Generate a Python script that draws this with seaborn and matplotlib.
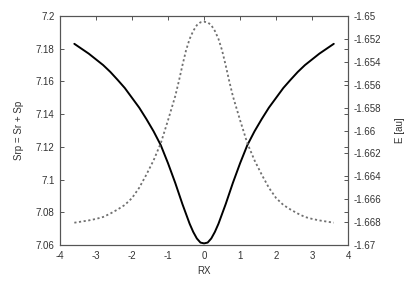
import numpy as np
import pandas as pd
import matplotlib
matplotlib.use("Agg")
import matplotlib.pyplot as plt
import seaborn as sns

# Values (left half, RX <= 0)
rx_half = [-3.6, -3.2, -3.0, -2.8, -2.6, -2.4, -2.2, -2.0, -1.8, -1.6, -1.4,
           -1.2, -1.0, -0.8, -0.7, -0.6, -0.5, -0.4, -0.3, -0.2, -0.1, 0.0]
srp_half = [7.183, 7.177, 7.1735, 7.170, 7.1658, 7.161, 7.156, 7.150, 7.144,
            7.137, 7.1295, 7.121, 7.110, 7.098, 7.0915, 7.085, 7.079, 7.073,
            7.068, 7.064, 7.0615, 7.061]
energy_half = [-1.66805, -1.66785, -1.66772, -1.66755, -1.66725, -1.66690,
               -1.66650, -1.66590, -1.66500, -1.66385, -1.66260, -1.66110,
               -1.65910, -1.65700, -1.65570, -1.65430, -1.65300, -1.65200,
               -1.65130, -1.65080, -1.65055, -1.65050]

# curves are symmetric about RX = 0
rx = rx_half + [-v for v in rx_half[-2::-1]]
srp = srp_half + srp_half[-2::-1]
energy = energy_half + energy_half[-2::-1]

df = pd.DataFrame({"RX": rx, "Srp": srp, "E": energy})

x_ticks = [-4, -3, -2, -1, 0, 1, 2, 3, 4]
left_ticks = [7.06, 7.08, 7.1, 7.12, 7.14, 7.16, 7.18, 7.2]
right_ticks = [-1.67, -1.668, -1.666, -1.664, -1.662, -1.66, -1.658, -1.656, -1.654, -1.652, -1.65]

sns.set_style("white")
plt.rcParams["font.family"] = ["Liberation Sans", "DejaVu Sans"]

fig = plt.figure(figsize=(4.19, 2.81), dpi=100)
ax = fig.add_axes([0.143, 0.128, 0.688, 0.815])
ax2 = ax.twinx()

sns.lineplot(data=df, x="RX", y="Srp", ax=ax, color="black", linewidth=1.4, sort=False)
sns.lineplot(data=df, x="RX", y="E", ax=ax2, color="#707070", linewidth=1.3,
             linestyle=(0, (1.2, 1.4)), sort=False)

ax.set_xlim(-4, 4)
ax.set_ylim(7.06, 7.2)
ax2.set_ylim(-1.67, -1.65)
ax.set_xticks(x_ticks)
ax.set_xticklabels([str(t) for t in x_ticks])
ax.set_yticks(left_ticks)
ax.set_yticklabels([f"{t:g}" for t in left_ticks])
ax2.set_yticks(right_ticks)
ax2.set_yticklabels([f"{t:g}" for t in right_ticks])

ax.set_xlabel("RX", fontsize=7, color="#333333")
ax.set_ylabel("Srp = Sr + Sp", fontsize=7, color="#333333", labelpad=8)
ax2.set_ylabel("E [au]", fontsize=7, color="#333333", labelpad=10)

ax.tick_params(axis="both", direction="in", length=3, width=0.7, color="#555555",
               labelsize=7, labelcolor="#333333", top=True, right=True, pad=4)
ax2.tick_params(axis="y", direction="in", length=3, width=0.7, color="#555555",
                labelsize=7, labelcolor="#333333", pad=4)

for a in (ax, ax2):
    for s in a.spines.values():
        s.set_color("#555555")
        s.set_linewidth(0.8)
        s.set_visible(True)

fig.savefig("out.png", dpi=100)
